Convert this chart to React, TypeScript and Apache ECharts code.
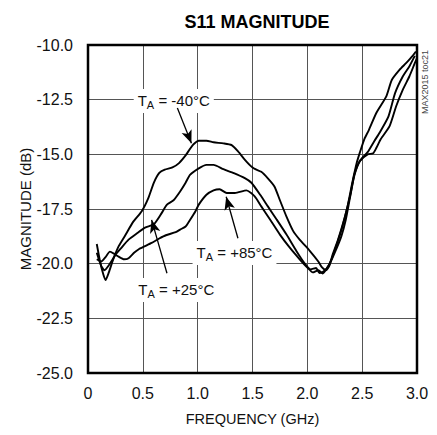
import React, { useEffect, useRef } from "react";
import * as echarts from "echarts";

// Frequency (GHz) / magnitude (dB) pairs
const s11Minus40: [number, number][] = [
  [0.08, -19.1], [0.11, -19.9], [0.14, -20.5], [0.16, -20.75], [0.19, -20.4], [0.23, -19.8],
  [0.28, -19.2], [0.34, -18.7], [0.41, -18.1], [0.49, -17.6], [0.55, -17.0], [0.6, -16.3],
  [0.65, -15.85], [0.7, -15.7], [0.77, -15.6], [0.83, -15.4], [0.89, -15.05], [0.93, -14.75],
  [0.96, -14.55], [1.01, -14.38], [1.08, -14.38], [1.145, -14.45], [1.235, -14.5], [1.31, -14.58],
  [1.37, -14.88], [1.445, -15.33], [1.51, -15.64], [1.58, -15.8], [1.64, -16.1], [1.7, -16.47],
  [1.75, -17.1], [1.81, -17.85], [1.87, -18.5], [1.93, -18.9], [2.02, -19.4], [2.1, -19.9],
  [2.13, -20.15], [2.17, -20.3], [2.2, -20.1], [2.23, -19.6], [2.28, -18.9], [2.34, -17.9],
  [2.39, -16.9], [2.43, -15.9], [2.48, -15.3], [2.55, -15.0], [2.6, -14.95], [2.63, -14.7],
  [2.67, -14.3], [2.75, -13.71], [2.81, -12.8], [2.87, -12.05], [2.93, -11.44], [2.98, -10.83],
  [3.0, -10.6],
];

const s11Plus25: [number, number][] = [
  [0.08, -19.5], [0.12, -20.1], [0.15, -20.3], [0.2, -20.0], [0.25, -19.6], [0.3, -19.3],
  [0.37, -18.9], [0.45, -18.6], [0.52, -18.35], [0.6, -18.2], [0.67, -17.7], [0.72, -17.3],
  [0.78, -17.1], [0.84, -16.7], [0.89, -16.3], [0.93, -15.94], [1.01, -15.64], [1.08, -15.48],
  [1.145, -15.48], [1.235, -15.68], [1.33, -15.86], [1.43, -16.09], [1.49, -16.3], [1.57, -16.85],
  [1.64, -17.38], [1.72, -17.98], [1.81, -18.67], [1.9, -19.42], [1.97, -19.95], [2.03, -20.26],
  [2.08, -20.2], [2.11, -20.43], [2.15, -20.35], [2.2, -20.05], [2.25, -19.5], [2.31, -18.75],
  [2.35, -18.0], [2.39, -16.95], [2.43, -15.95], [2.48, -15.3], [2.55, -14.9], [2.61, -14.4],
  [2.66, -14.0], [2.74, -13.26], [2.8, -12.2], [2.87, -11.44], [2.93, -10.98], [2.98, -10.5],
];

const s11Plus85: [number, number][] = [
  [0.08, -19.8], [0.12, -19.9], [0.16, -19.7], [0.2, -19.45], [0.24, -19.55], [0.28, -19.68],
  [0.33, -19.8], [0.37, -19.75], [0.42, -19.5], [0.46, -19.35], [0.52, -19.2], [0.58, -19.05],
  [0.65, -18.85], [0.71, -18.7], [0.8, -18.56], [0.84, -18.44], [0.89, -18.3], [0.93, -18.0],
  [0.98, -17.6], [1.01, -17.3], [1.08, -16.85], [1.145, -16.65], [1.2, -16.6], [1.265, -16.77],
  [1.34, -16.77], [1.445, -16.65], [1.52, -16.92], [1.58, -17.38], [1.66, -17.98], [1.75, -18.67],
  [1.84, -19.27], [1.93, -19.8], [2.0, -20.18], [2.05, -20.4], [2.1, -20.3], [2.14, -20.45],
  [2.18, -20.2], [2.22, -19.8], [2.27, -19.1], [2.32, -18.3], [2.37, -17.3], [2.41, -16.3],
  [2.45, -15.4], [2.48, -14.9], [2.52, -14.3], [2.56, -13.9], [2.63, -13.1], [2.72, -12.35],
  [2.77, -11.6], [2.84, -11.14], [2.9, -10.83], [2.96, -10.5], [2.99, -10.3],
];

// Annotation texts, label anchors and arrow (tail -> tip) in data coordinates
const labelTemps = ["-40°C", "+85°C", "+25°C"];
const labelAnchors: [number, number][] = [[0.782, -12.56], [1.336, -19.51], [0.805, -21.2]];
const arrowTails: [number, number][] = [[0.815, -12.88], [1.367, -18.84], [0.72, -20.44]];
const arrowTips: [number, number][] = [[0.943, -14.49], [1.26, -16.94], [0.58, -18.0]];

const xTicks = [0, 0.5, 1.0, 1.5, 2.0, 2.5, 3.0];
const yTicks = [-25, -22.5, -20, -17.5, -15, -12.5, -10];

const FONT = "'Liberation Sans', Arial, sans-serif";

export default function App() {
  const ref = useRef<HTMLDivElement>(null);
  useEffect(() => {
    if (!ref.current) return;
    const chart = echarts.init(ref.current, undefined, { renderer: "svg" });
    const lineSeries = (name: string, data: [number, number][], extra: any = {}) => ({
      name,
      type: "line",
      data,
      showSymbol: false,
      symbol: "none",
      smooth: 0.2,
      lineStyle: { color: "#000", width: 1.9 },
      z: 3,
      ...extra,
    });
    const mk = labelTemps.map((t, i) => ({
      coord: labelAnchors[i],
      symbol: "circle",
      symbolSize: 1,
      itemStyle: { color: "rgba(0,0,0,0)" },
      label: {
        show: true,
        position: "inside",
        formatter: `{t|T}{s|A}{t| = ${t}}`,
        backgroundColor: "#fff",
        padding: [2, 4, 2, 4],
        rich: {
          t: { fontFamily: FONT, fontSize: 15, color: "#111", lineHeight: 20, verticalAlign: "middle" },
          s: { fontFamily: FONT, fontSize: 11, color: "#111", lineHeight: 20, verticalAlign: "bottom", padding: [8, 0, 0, 0] },
        },
      },
    }));
    const arrows = labelTemps.map((_, i) => [
      { coord: arrowTails[i], symbol: "none" },
      { coord: arrowTips[i], symbol: "arrow" },
    ]);
    chart.setOption({
      animation: false,
      backgroundColor: "#fff",
      title: {
        text: "S11 MAGNITUDE",
        left: 252,
        top: 8,
        textAlign: "center",
        textStyle: { fontFamily: FONT, fontWeight: "bold", fontSize: 18, color: "#000" },
      },
      grid: {
        left: 88,
        right: 20,
        top: 45,
        bottom: 62,
        show: true,
        borderColor: "#000",
        borderWidth: 2.5,
        backgroundColor: "transparent",
        z: 4,
      },
      xAxis: {
        type: "value",
        min: 0,
        max: 3,
        interval: 0.5,
        name: "FREQUENCY (GHz)",
        nameLocation: "middle",
        nameGap: 38,
        nameTextStyle: { fontFamily: FONT, fontSize: 14.5, color: "#111" },
        axisLine: { show: false },
        axisTick: { show: false },
        axisLabel: {
          margin: 12,
          fontFamily: FONT,
          fontSize: 16,
          color: "#111",
          formatter: (v: number) => (xTicks.includes(v) ? (v === 0 ? "0" : v.toFixed(1)) : ""),
        },
        splitLine: { show: true, lineStyle: { color: "#555", width: 1 } },
      },
      yAxis: {
        type: "value",
        min: -25,
        max: -10,
        interval: 2.5,
        axisLine: { show: false },
        axisTick: { show: false },
        axisLabel: {
          margin: 15,
          fontFamily: FONT,
          fontSize: 16,
          color: "#111",
          formatter: (v: number) => (yTicks.includes(v) ? v.toFixed(1) : ""),
        },
        splitLine: { show: true, lineStyle: { color: "#555", width: 1 } },
      },
      graphic: [
        {
          type: "text",
          x: 25,
          y: 209,
          rotation: Math.PI / 2,
          style: {
            text: "MAGNITUDE (dB)",
            fontFamily: FONT,
            fontSize: 15,
            fill: "#111",
            align: "center",
            verticalAlign: "middle",
          },
        },
        {
          type: "text",
          x: 425,
          y: 82,
          rotation: Math.PI / 2,
          style: {
            text: "MAX2015 toc21",
            fontFamily: FONT,
            fontSize: 9,
            fill: "#444",
            align: "center",
            verticalAlign: "middle",
          },
        },
      ],
      series: [
        lineSeries("TA = -40°C", s11Minus40, {
          markLine: {
            silent: true,
            symbolSize: [8, 13],
            lineStyle: { color: "#000", width: 1.3, type: "solid" },
            label: { show: false },
            data: arrows,
            z: 6,
          },
          markPoint: { silent: true, data: mk, z: 5 },
        }),
        lineSeries("TA = +25°C", s11Plus25),
        lineSeries("TA = +85°C", s11Plus85),
      ],
    });
    return () => chart.dispose();
  }, []);
  return (
    <div
      ref={ref}
      style={{ position: "fixed", left: 0, top: 0, width: 437, height: 435, background: "#fff" }}
    />
  );
}
